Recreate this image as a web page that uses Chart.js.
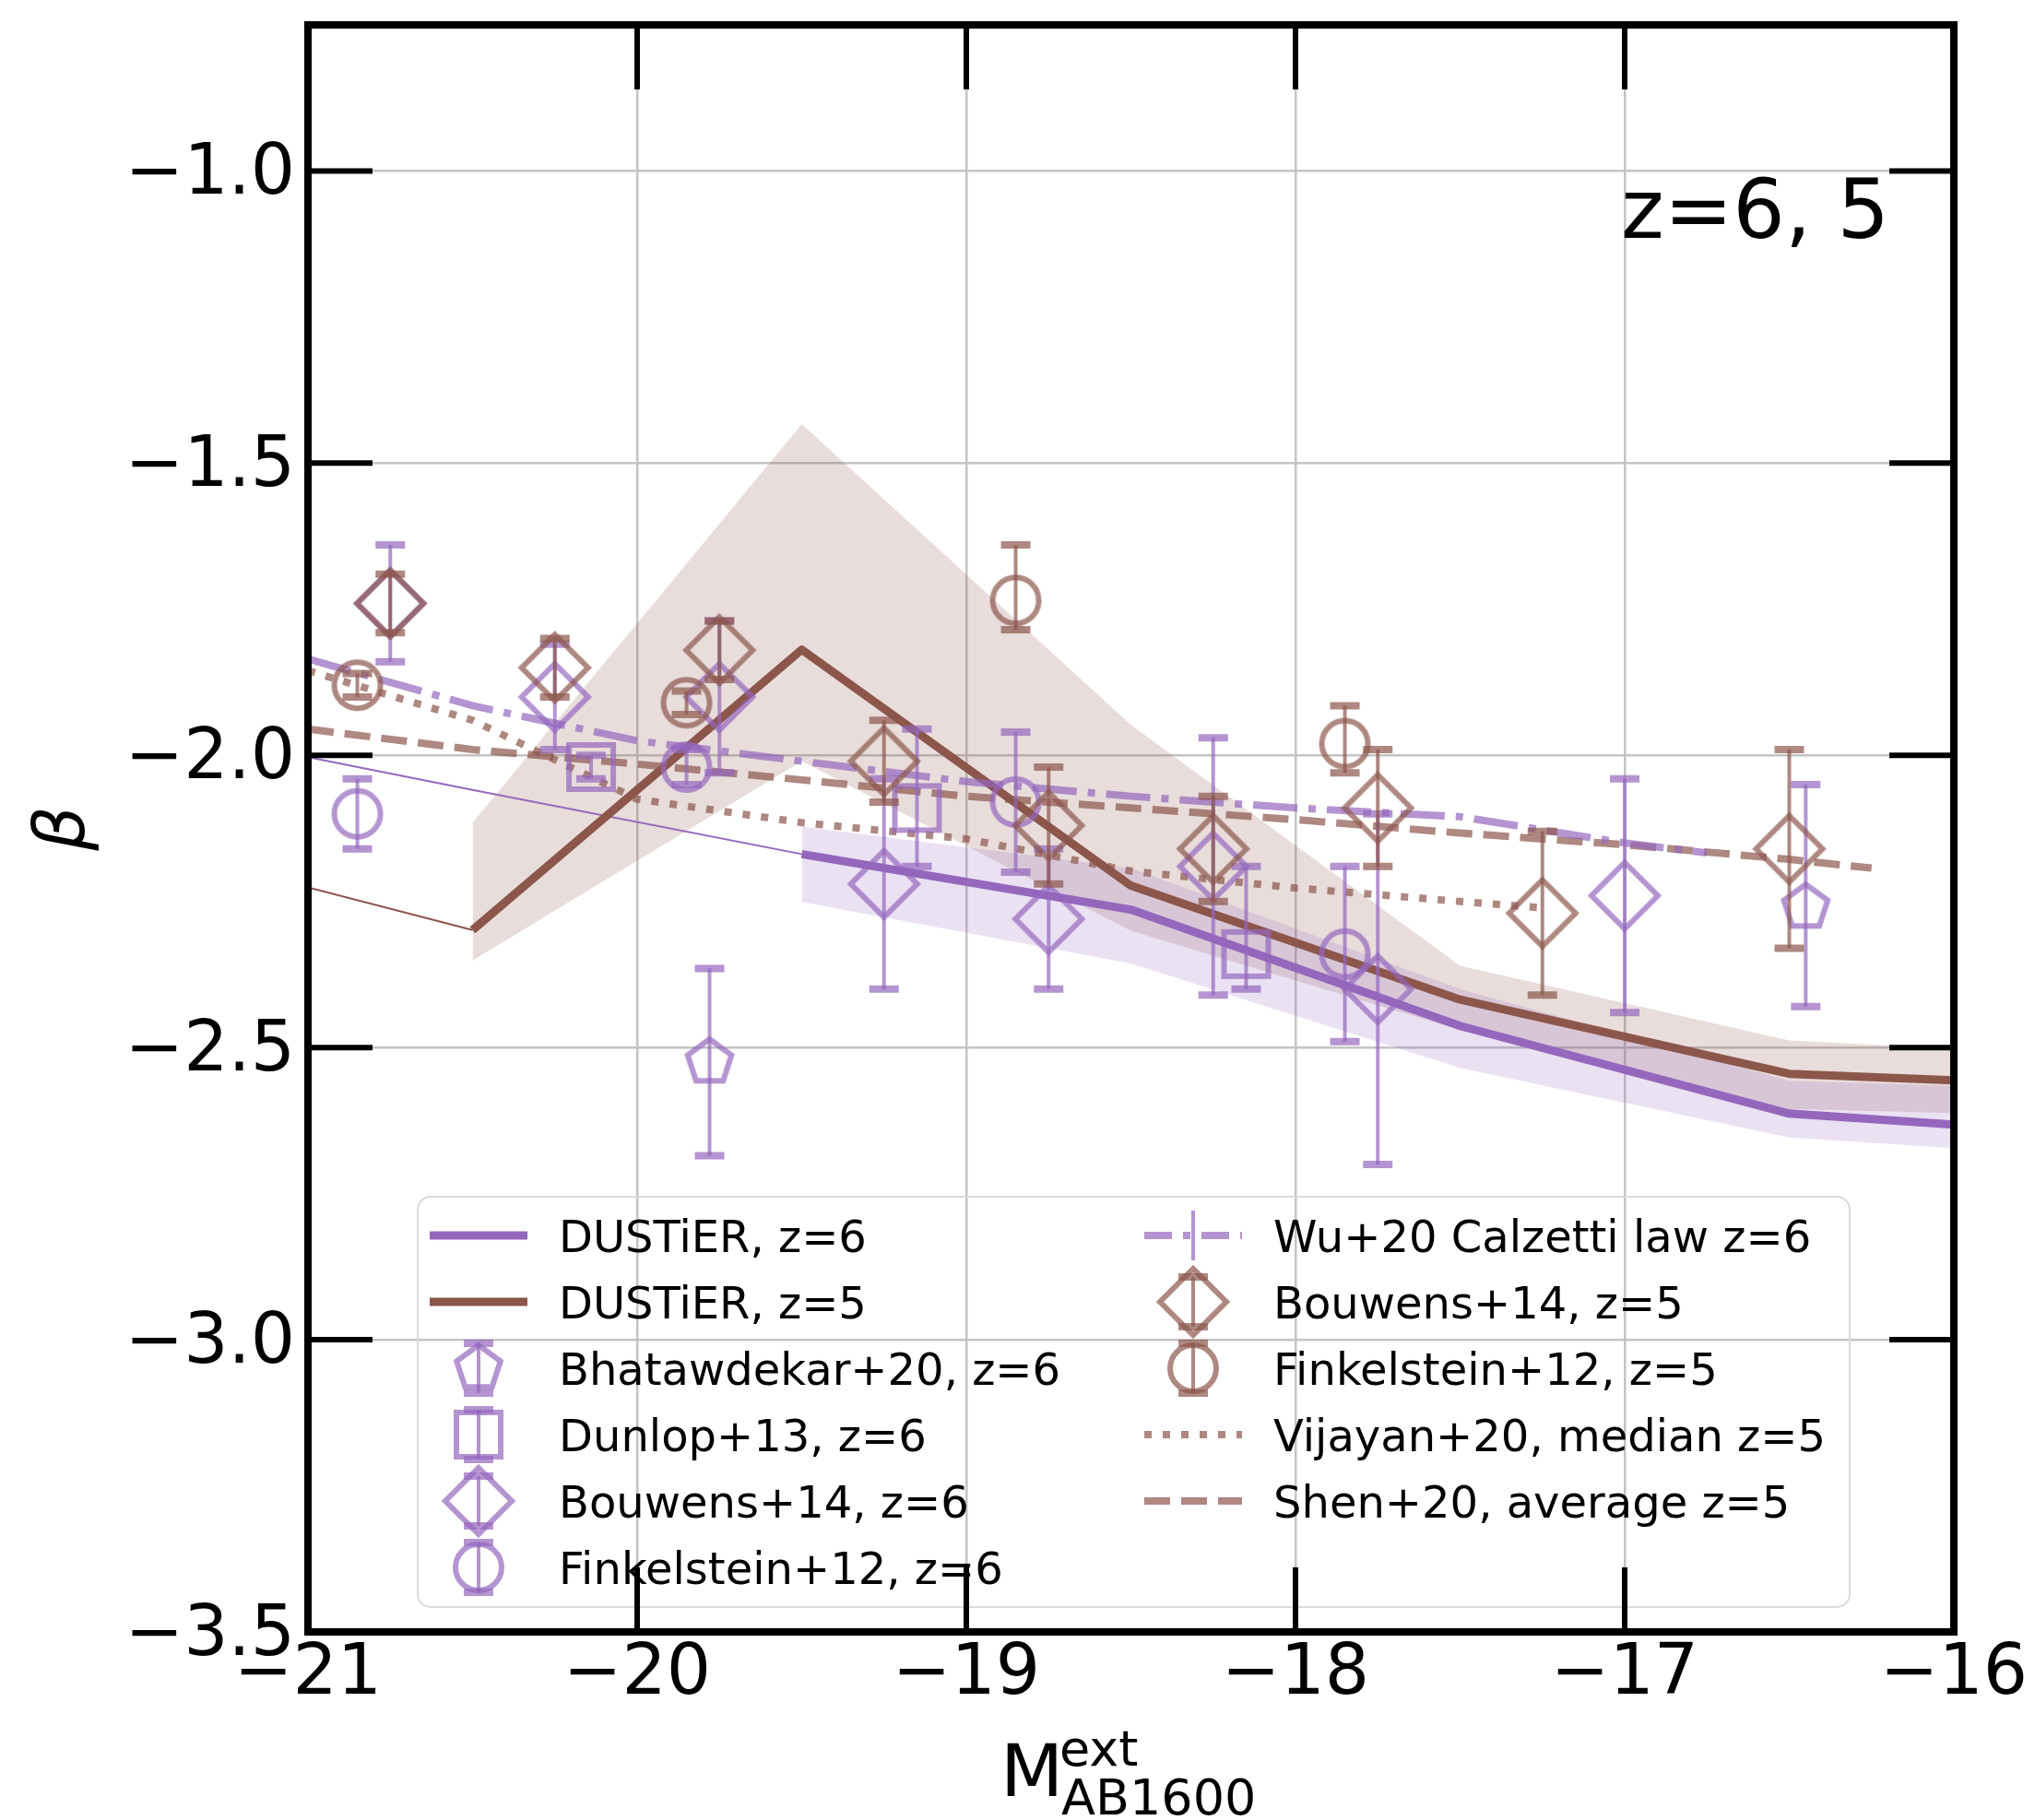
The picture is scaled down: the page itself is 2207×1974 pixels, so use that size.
<!DOCTYPE html>
<html>
<head>
<meta charset="utf-8">
<title>UV slope beta vs M1600</title>
<script src="https://cdn.jsdelivr.net/npm/chart.js@4.4.1/dist/chart.umd.min.js"></script>
<style>
  html, body { margin: 0; padding: 0; background: #ffffff; }
  #wrap { width: 2207px; height: 1974px; }
</style>
</head>
<body>
<div id="wrap"><canvas id="c" width="2207" height="1974"></canvas></div>
<script>
// ---------------- axis ticks ----------------
const xTickValues = [-21, -20, -19, -18, -17, -16];
const yTickValues = [-3.5, -3.0, -2.5, -2.0, -1.5, -1.0];

// ---------------- DUSTiER model medians ----------------
const dustierZ6_M = [-19.5, -18.5, -17.5, -16.5, -16.0];
const dustierZ6_beta = [-2.169, -2.264, -2.463, -2.613, -2.632];
const dustierZ6Bright_M = [-21.0, -20.5, -19.5];
const dustierZ6Bright_beta = [-2.003, -2.059, -2.169];

const dustierZ5_M = [-20.5, -19.5, -18.5, -17.5, -16.5, -16.0];
const dustierZ5_beta = [-2.299, -1.819, -2.223, -2.418, -2.545, -2.556];
const dustierZ5Bright_M = [-21.0, -20.5];
const dustierZ5Bright_beta = [-2.226, -2.299];

// ---------------- DUSTiER spread (shaded bands) ----------------
const bandZ6_M = [-19.5, -18.5, -17.5, -16.5, -16.0];
const bandZ6_upper = [-2.122, -2.193, -2.400, -2.557, -2.565];
const bandZ6_lower = [-2.251, -2.356, -2.535, -2.654, -2.672];

const bandZ5_M = [-20.5, -19.5, -18.5, -17.5, -16.5, -16.0];
const bandZ5_upper = [-2.115, -1.433, -1.948, -2.360, -2.488, -2.502];
const bandZ5_lower = [-2.351, -2.010, -2.300, -2.470, -2.605, -2.612];

// ---------------- literature relations ----------------
const wu20_M = [-21.0, -20.5, -20.0, -19.5, -19.0, -18.5, -18.0, -17.5, -17.0, -16.75];
const wu20_beta = [-1.835, -1.915, -1.975, -2.010, -2.045, -2.070, -2.090, -2.105, -2.150, -2.167];

const vijayan20_M = [-21.0, -20.5, -20.0, -19.5, -19.0, -18.5, -18.0, -17.5, -17.25];
const vijayan20_beta = [-1.855, -1.940, -2.075, -2.115, -2.143, -2.198, -2.227, -2.250, -2.261];

const shen20_M = [-21.0, -20.5, -20.0, -19.5, -19.0, -18.5, -18.0, -17.5, -17.0, -16.5, -16.25];
const shen20_beta = [-1.955, -1.990, -2.015, -2.042, -2.070, -2.090, -2.110, -2.133, -2.153, -2.178, -2.193];

// ---------------- observations (value, lower error, upper error) ----------------
const bhatawdekar20_M = [-19.78, -16.45];
const bhatawdekar20_beta = [-2.525, -2.26];
const bhatawdekar20_errLo = [0.16, 0.17];
const bhatawdekar20_errHi = [0.16, 0.21];

const dunlop13_M = [-20.14, -19.15, -18.15];
const dunlop13_beta = [-2.02, -2.09, -2.34];
const dunlop13_errLo = [0.02, 0.10, 0.06];
const dunlop13_errHi = [0.02, 0.135, 0.15];

const bouwens14z6_M = [-20.75, -20.25, -19.75, -19.25, -18.75, -18.25, -17.75, -17.0];
const bouwens14z6_beta = [-1.74, -1.90, -1.90, -2.22, -2.28, -2.19, -2.40, -2.24];
const bouwens14z6_err = [0.10, 0.09, 0.13, 0.18, 0.12, 0.22, 0.30, 0.20];

const finkelstein12z6_M = [-20.85, -19.85, -18.85, -17.85];
const finkelstein12z6_beta = [-2.10, -2.02, -2.08, -2.34];
const finkelstein12z6_err = [0.06, 0.03, 0.12, 0.15];

const bouwens14z5_M = [-20.75, -20.25, -19.75, -19.25, -18.75, -18.25, -17.75, -17.25, -16.5];
const bouwens14z5_beta = [-1.74, -1.85, -1.82, -2.01, -2.12, -2.16, -2.09, -2.27, -2.16];
const bouwens14z5_err = [0.05, 0.05, 0.05, 0.07, 0.10, 0.09, 0.10, 0.14, 0.17];

const finkelstein12z5_M = [-20.85, -19.85, -18.85, -17.85];
const finkelstein12z5_beta = [-1.88, -1.91, -1.735, -1.98];
const finkelstein12z5_errLo = [0.02, 0.02, 0.05, 0.05];
const finkelstein12z5_errHi = [0.02, 0.02, 0.095, 0.065];

// ---------------- labels ----------------
const L_DZ6 = 'DUSTiER, z=6';
const L_DZ5 = 'DUSTiER, z=5';
const L_BHA = 'Bhatawdekar+20, z=6';
const L_DUN = 'Dunlop+13, z=6';
const L_BO6 = 'Bouwens+14, z=6';
const L_FI6 = 'Finkelstein+12, z=6';
const L_WU = 'Wu+20 Calzetti law z=6';
const L_BO5 = 'Bouwens+14, z=5';
const L_FI5 = 'Finkelstein+12, z=5';
const L_VIJ = 'Vijayan+20, median z=5';
const L_SHE = 'Shen+20, average z=5';
const panelText = 'z=6, 5';
const yTitle = 'β';
const xTitleMain = 'M';
const xTitleSup = 'ext';
const xTitleSub = 'AB1600';

// ---------------- styling ----------------
const FONT = '"DejaVu Sans", "Liberation Sans", sans-serif';
const PURPLE = [148, 103, 189];
const BROWN = [140, 86, 75];
const rgba = (c, a) => `rgba(${c[0]},${c[1]},${c[2]},${a})`;
const OBS_ALPHA = 0.7;
const GRID = '#c4c4c4';
const REL_WIDTH = 8;

function markerImage(shape, color) {
  const s = 96;
  const cv = document.createElement('canvas');
  cv.width = s; cv.height = s;
  const g = cv.getContext('2d');
  g.translate(s / 2, s / 2);
  g.strokeStyle = color;
  g.lineWidth = 6;
  g.lineJoin = 'miter';
  g.beginPath();
  if (shape === 'diamond') {
    const r = 36;
    g.moveTo(0, -r); g.lineTo(r, 0); g.lineTo(0, r); g.lineTo(-r, 0); g.closePath();
  } else if (shape === 'square') {
    const h = 24;
    g.rect(-h, -h, 2 * h, 2 * h);
  } else if (shape === 'circle') {
    g.arc(0, 0, 25, 0, 2 * Math.PI);
  } else if (shape === 'pentagon') {
    const R = 25;
    for (let k = 0; k < 5; k++) {
      const a = -Math.PI / 2 + k * 2 * Math.PI / 5;
      const px = R * Math.cos(a), py = R * Math.sin(a);
      if (k === 0) g.moveTo(px, py); else g.lineTo(px, py);
    }
    g.closePath();
  }
  g.stroke();
  return cv;
}

const mk = {
  pentP: markerImage('pentagon', rgba(PURPLE, OBS_ALPHA)),
  sqP: markerImage('square', rgba(PURPLE, OBS_ALPHA)),
  diaP: markerImage('diamond', rgba(PURPLE, OBS_ALPHA)),
  cirP: markerImage('circle', rgba(PURPLE, OBS_ALPHA)),
  diaB: markerImage('diamond', rgba(BROWN, OBS_ALPHA)),
  cirB: markerImage('circle', rgba(BROWN, OBS_ALPHA))
};

const pts = (xs, ys) => xs.map((x, i) => ({ x, y: ys[i] }));

function lineSet(label, xs, ys, color, width, dash, order) {
  return {
    label, data: pts(xs, ys), borderColor: color, borderWidth: width,
    borderDash: dash || [], borderCapStyle: 'butt',
    borderJoinStyle: 'round', pointRadius: 0, fill: false, showLine: true, order
  };
}

function obsSet(label, xs, ys, lo, hi, img, color, order) {
  return {
    label, data: pts(xs, ys), showLine: false, pointStyle: img, pointRadius: 25,
    pointHoverRadius: 25, errLo: lo, errHi: hi, errColor: color, order
  };
}

const datasets = [
  // shaded spreads
  { label: 'DUSTiER z=5 upper', data: pts(bandZ5_M, bandZ5_upper), borderWidth: 0, pointRadius: 0, fill: false, showLine: true, order: 100 },
  { label: 'DUSTiER z=5 lower', data: pts(bandZ5_M, bandZ5_lower), borderWidth: 0, pointRadius: 0, fill: '-1', backgroundColor: rgba(BROWN, 0.2), showLine: true, order: 100 },
  { label: 'DUSTiER z=6 upper', data: pts(bandZ6_M, bandZ6_upper), borderWidth: 0, pointRadius: 0, fill: false, showLine: true, order: 99 },
  { label: 'DUSTiER z=6 lower', data: pts(bandZ6_M, bandZ6_lower), borderWidth: 0, pointRadius: 0, fill: '-1', backgroundColor: rgba(PURPLE, 0.2), showLine: true, order: 99 },
  // model medians
  lineSet(L_DZ6 + ' bright', dustierZ6Bright_M, dustierZ6Bright_beta, rgba(PURPLE, 1), 2, [], 95),
  lineSet(L_DZ5 + ' bright', dustierZ5Bright_M, dustierZ5Bright_beta, rgba(BROWN, 1), 2, [], 95),
  lineSet(L_DZ6, dustierZ6_M, dustierZ6_beta, rgba(PURPLE, 1), 9, [], 90),
  lineSet(L_DZ5, dustierZ5_M, dustierZ5_beta, rgba(BROWN, 1), 9, [], 90),
  // literature relations
  lineSet(L_WU, wu20_M, wu20_beta, rgba(PURPLE, OBS_ALPHA), REL_WIDTH, [48, 12, 8, 12], 80),
  lineSet(L_VIJ, vijayan20_M, vijayan20_beta, rgba(BROWN, OBS_ALPHA), REL_WIDTH, [8, 12], 80),
  lineSet(L_SHE, shen20_M, shen20_beta, rgba(BROWN, OBS_ALPHA), REL_WIDTH, [28, 12], 80),
  // observations
  obsSet(L_BHA, bhatawdekar20_M, bhatawdekar20_beta, bhatawdekar20_errLo, bhatawdekar20_errHi, mk.pentP, rgba(PURPLE, OBS_ALPHA), 70),
  obsSet(L_DUN, dunlop13_M, dunlop13_beta, dunlop13_errLo, dunlop13_errHi, mk.sqP, rgba(PURPLE, OBS_ALPHA), 69),
  obsSet(L_BO6, bouwens14z6_M, bouwens14z6_beta, bouwens14z6_err, bouwens14z6_err, mk.diaP, rgba(PURPLE, OBS_ALPHA), 68),
  obsSet(L_FI6, finkelstein12z6_M, finkelstein12z6_beta, finkelstein12z6_err, finkelstein12z6_err, mk.cirP, rgba(PURPLE, OBS_ALPHA), 67),
  obsSet(L_BO5, bouwens14z5_M, bouwens14z5_beta, bouwens14z5_err, bouwens14z5_err, mk.diaB, rgba(BROWN, OBS_ALPHA), 66),
  obsSet(L_FI5, finkelstein12z5_M, finkelstein12z5_beta, finkelstein12z5_errLo, finkelstein12z5_errHi, mk.cirB, rgba(BROWN, OBS_ALPHA), 65)
];

// vertical error bars with caps, drawn right before each observation set
const errorBarPlugin = {
  id: 'errorBars',
  beforeDatasetDraw(chart, args) {
    const ds = chart.data.datasets[args.index];
    if (!ds.errLo) return;
    const { ctx, chartArea: a, scales: { x, y } } = chart;
    ctx.save();
    ctx.beginPath();
    ctx.rect(a.left, a.top, a.right - a.left, a.bottom - a.top);
    ctx.clip();
    ctx.strokeStyle = ds.errColor;
    ctx.lineCap = 'butt';
    ds.data.forEach((p, i) => {
      const px = x.getPixelForValue(p.x);
      const top = y.getPixelForValue(p.y + ds.errHi[i]);
      const bot = y.getPixelForValue(p.y - ds.errLo[i]);
      ctx.lineWidth = 4;
      ctx.beginPath(); ctx.moveTo(px, top); ctx.lineTo(px, bot); ctx.stroke();
      ctx.lineWidth = 8;
      ctx.beginPath();
      ctx.moveTo(px - 16, top); ctx.lineTo(px + 16, top);
      ctx.moveTo(px - 16, bot); ctx.lineTo(px + 16, bot);
      ctx.stroke();
    });
    ctx.restore();
  }
};

// legend entries: column, row, handle description
const legendItems = [
  { col: 0, row: 0, label: L_DZ6, line: { color: rgba(PURPLE, 1), width: 9, dash: [] } },
  { col: 0, row: 1, label: L_DZ5, line: { color: rgba(BROWN, 1), width: 9, dash: [] } },
  { col: 0, row: 2, label: L_BHA, marker: mk.pentP, err: rgba(PURPLE, OBS_ALPHA), cap: true },
  { col: 0, row: 3, label: L_DUN, marker: mk.sqP, err: rgba(PURPLE, OBS_ALPHA), cap: true },
  { col: 0, row: 4, label: L_BO6, marker: mk.diaP, err: rgba(PURPLE, OBS_ALPHA), cap: true },
  { col: 0, row: 5, label: L_FI6, marker: mk.cirP, err: rgba(PURPLE, OBS_ALPHA), cap: true },
  { col: 1, row: 0, label: L_WU, line: { color: rgba(PURPLE, OBS_ALPHA), width: REL_WIDTH, dash: [30, 12, 8, 12] }, err: rgba(PURPLE, OBS_ALPHA), cap: false },
  { col: 1, row: 1, label: L_BO5, marker: mk.diaB, err: rgba(BROWN, OBS_ALPHA), cap: true },
  { col: 1, row: 2, label: L_FI5, marker: mk.cirB, err: rgba(BROWN, OBS_ALPHA), cap: true },
  { col: 1, row: 3, label: L_VIJ, line: { color: rgba(BROWN, OBS_ALPHA), width: REL_WIDTH, dash: [8, 12] } },
  { col: 1, row: 4, label: L_SHE, line: { color: rgba(BROWN, OBS_ALPHA), width: REL_WIDTH, dash: [28, 12] } }
];
const LEGEND_BOX = { x: 453, y: 1298, w: 1553, h: 445, r: 14 };
const LEGEND_ROW0 = 1340, LEGEND_DY = 72;
const LEGEND_COLS = [{ h0: 466, h1: 572, text: 606 }, { h0: 1241, h1: 1347, text: 1381 }];

const legendPlugin = {
  id: 'insetLegend',
  afterDatasetsDraw(chart) {
    const ctx = chart.ctx;
    ctx.save();
    const b = LEGEND_BOX;
    ctx.strokeStyle = '#dadada';
    ctx.lineWidth = 2;
    ctx.beginPath();
    ctx.roundRect(b.x, b.y, b.w, b.h, b.r);
    ctx.stroke();
    ctx.font = '48px ' + FONT;
    ctx.textBaseline = 'alphabetic';
    ctx.textAlign = 'left';
    legendItems.forEach(it => {
      const c = LEGEND_COLS[it.col];
      const cy = LEGEND_ROW0 + it.row * LEGEND_DY;
      const xm = (c.h0 + c.h1) / 2;
      if (it.line) {
        ctx.strokeStyle = it.line.color;
        ctx.lineWidth = it.line.width;
        ctx.setLineDash(it.line.dash);
        ctx.lineCap = 'butt';
        ctx.beginPath(); ctx.moveTo(c.h0, cy); ctx.lineTo(c.h1, cy); ctx.stroke();
        ctx.setLineDash([]);
      }
      if (it.err) {
        ctx.strokeStyle = it.err;
        ctx.lineWidth = 4;
        ctx.beginPath(); ctx.moveTo(xm, cy - 27); ctx.lineTo(xm, cy + 27); ctx.stroke();
        if (it.cap) {
          ctx.lineWidth = 8;
          ctx.beginPath();
          ctx.moveTo(xm - 16, cy - 27); ctx.lineTo(xm + 16, cy - 27);
          ctx.moveTo(xm - 16, cy + 27); ctx.lineTo(xm + 16, cy + 27);
          ctx.stroke();
        }
      }
      if (it.marker) {
        ctx.drawImage(it.marker, xm - it.marker.width / 2, cy - it.marker.height / 2);
      }
      ctx.fillStyle = '#000';
      ctx.fillText(it.label, c.text, cy + 18);
    });
    ctx.restore();
  }
};

// panel text and x-axis title with super/subscript
const textPlugin = {
  id: 'texts',
  afterDraw(chart) {
    const ctx = chart.ctx;
    ctx.save();
    ctx.fillStyle = '#000';
    ctx.textAlign = 'left';
    ctx.textBaseline = 'alphabetic';
    ctx.font = '89px ' + FONT;
    ctx.fillText(panelText, 1758, 258);
    ctx.font = '79px ' + FONT;
    ctx.fillText(xTitleMain, 1085, 1948);
    ctx.font = '54px ' + FONT;
    ctx.fillText(xTitleSup, 1149, 1915);
    ctx.fillText(xTitleSub, 1151, 1968);
    ctx.restore();
  }
};

// inward ticks on all four sides and the axes frame
const framePlugin = {
  id: 'frame',
  afterDraw(chart) {
    const { ctx, chartArea: a, scales: { x, y } } = chart;
    const L = 70;
    ctx.save();
    ctx.strokeStyle = '#000';
    ctx.lineCap = 'butt';
    ctx.lineWidth = 6;
    ctx.beginPath();
    xTickValues.forEach(v => {
      const px = x.getPixelForValue(v);
      ctx.moveTo(px, a.bottom); ctx.lineTo(px, a.bottom - L);
      ctx.moveTo(px, a.top); ctx.lineTo(px, a.top + L);
    });
    yTickValues.forEach(v => {
      const py = y.getPixelForValue(v);
      ctx.moveTo(a.left, py); ctx.lineTo(a.left + L, py);
      ctx.moveTo(a.right, py); ctx.lineTo(a.right - L, py);
    });
    ctx.stroke();
    ctx.lineWidth = 8;
    ctx.lineJoin = 'miter';
    ctx.strokeRect(a.left, a.top, a.right - a.left, a.bottom - a.top);
    ctx.restore();
  }
};

const fmt = (v, d) => (v < 0 ? '\u2212' : '') + Math.abs(v).toFixed(d);

Chart.defaults.font.family = FONT;
Chart.defaults.color = '#000';

new Chart(document.getElementById('c'), {
  type: 'line',
  data: { datasets },
  options: {
    responsive: false,
    maintainAspectRatio: false,
    animation: false,
    devicePixelRatio: 1,
    events: [],
    layout: { padding: { left: 0, top: 27, right: 88, bottom: 0 } },
    elements: { line: { tension: 0 } },
    plugins: { legend: { display: false }, tooltip: { enabled: false } },
    scales: {
      x: {
        type: 'linear', min: -21, max: -16,
        afterBuildTicks: s => { s.ticks = xTickValues.map(v => ({ value: v })); },
        afterFit: s => { s.height = 204; s.paddingLeft = 0; s.paddingRight = 0; },
        grid: { color: GRID, lineWidth: 2.5, drawTicks: false },
        border: { display: false },
        ticks: { autoSkip: false, maxRotation: 0, minRotation: 0, padding: 2, color: '#000',
          font: { size: 76, family: FONT }, callback: v => fmt(v, 0) }
      },
      y: {
        type: 'linear', min: -3.5, max: -0.75,
        afterBuildTicks: s => { s.ticks = yTickValues.map(v => ({ value: v })); },
        afterFit: s => { s.width = 334; s.paddingTop = 0; s.paddingBottom = 0; },
        grid: { color: GRID, lineWidth: 2.5, drawTicks: false },
        border: { display: false },
        ticks: { autoSkip: false, padding: 14, labelOffset: 5, color: '#000',
          font: { size: 76, family: FONT }, callback: v => fmt(v, 1) },
        title: { display: true, text: yTitle, color: '#000',
          font: { size: 76, style: 'italic', family: FONT }, padding: { top: 26, bottom: 0 } }
      }
    }
  },
  plugins: [errorBarPlugin, legendPlugin, textPlugin, framePlugin]
});
</script>
</body>
</html>
